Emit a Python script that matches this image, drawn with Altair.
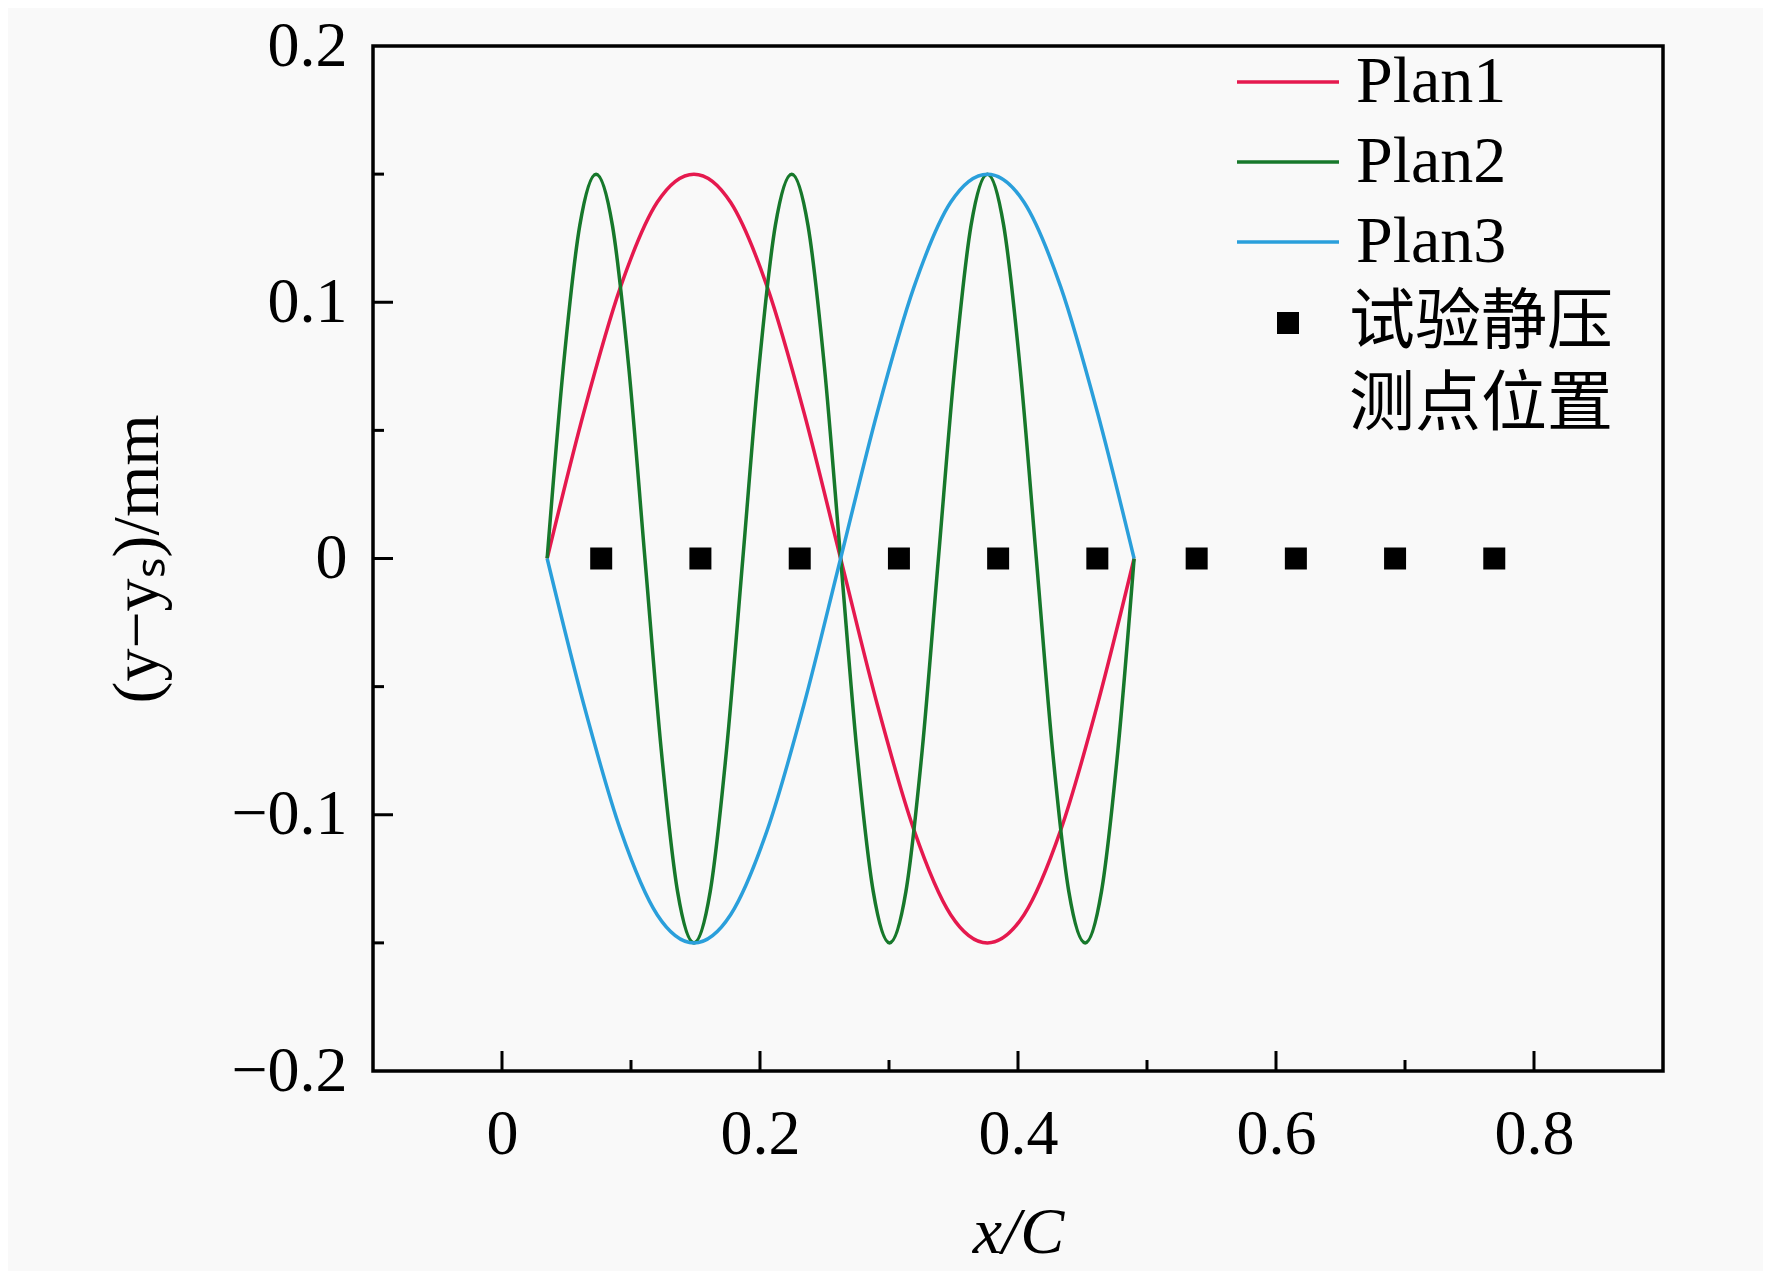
import altair as alt
import pandas as pd

# ---------------- data ----------------
plan1_x = [0.0350, 0.0634, 0.0919, 0.1203, 0.1488, 0.1772, 0.2056, 0.2341, 0.2625,
           0.2909, 0.3194, 0.3478, 0.3763, 0.4047, 0.4331, 0.4616, 0.4900]
plan1_y = [0.000, 0.057, 0.106, 0.139, 0.150, 0.139, 0.106, 0.057, 0.000,
           -0.057, -0.106, -0.139, -0.150, -0.139, -0.106, -0.057, 0.000]

plan2_x = [0.0350, 0.0476, 0.0603, 0.0729, 0.0856, 0.0982, 0.1108, 0.1235, 0.1361,
           0.1488, 0.1614, 0.1740, 0.1867, 0.1993, 0.2119, 0.2246, 0.2372, 0.2499,
           0.2625, 0.2751, 0.2878, 0.3004, 0.3131, 0.3257, 0.3383, 0.3510, 0.3636,
           0.3763, 0.3889, 0.4015, 0.4142, 0.4268, 0.4394, 0.4521, 0.4647, 0.4774,
           0.4900]
plan2_y = [0.000, 0.075, 0.130, 0.150, 0.130, 0.075, 0.000, -0.075, -0.130,
           -0.150, -0.130, -0.075, 0.000, 0.075, 0.130, 0.150, 0.130, 0.075,
           0.000, -0.075, -0.130, -0.150, -0.130, -0.075, 0.000, 0.075, 0.130,
           0.150, 0.130, 0.075, 0.000, -0.075, -0.130, -0.150, -0.130, -0.075,
           0.000]

plan3_x = [0.0350, 0.0634, 0.0919, 0.1203, 0.1488, 0.1772, 0.2056, 0.2341, 0.2625,
           0.2909, 0.3194, 0.3478, 0.3763, 0.4047, 0.4331, 0.4616, 0.4900]
plan3_y = [0.000, -0.057, -0.106, -0.139, -0.150, -0.139, -0.106, -0.057, 0.000,
           0.057, 0.106, 0.139, 0.150, 0.139, 0.106, 0.057, 0.000]

tap_x = [0.0769, 0.1538, 0.2308, 0.3077, 0.3846, 0.4615, 0.5385, 0.6154, 0.6923, 0.7692]
tap_y = [0, 0, 0, 0, 0, 0, 0, 0, 0, 0]

plan_names = ["Plan1", "Plan2", "Plan3"]
plan_colors = ["#E5194E", "#17782B", "#2A9FDB"]
tap_name = "试验静压"
tap_name2 = "测点位置"

x_major = [0, 0.2, 0.4, 0.6, 0.8]
x_minor = [0.1, 0.3, 0.5, 0.7]
y_labels = [-0.2, -0.1, 0, 0.1, 0.2]
y_major = [-0.1, 0, 0.1]
y_minor = [-0.15, -0.05, 0.05, 0.15]

# ---------------- tables ----------------
rows = []
for name, xs, ys in zip(plan_names, [plan1_x, plan2_x, plan3_x], [plan1_y, plan2_y, plan3_y]):
    for i, (a, b) in enumerate(zip(xs, ys)):
        rows.append({"x": a, "y": b, "plan": name, "i": i})
lines_df = pd.DataFrame(rows)
taps_df = pd.DataFrame({"x": tap_x, "y": tap_y, "pt": [tap_name] * len(tap_x)})
xmaj_df = pd.DataFrame({"x": x_major})
xmin_df = pd.DataFrame({"x": x_minor})
ymaj_df = pd.DataFrame({"y": y_major})
ymin_df = pd.DataFrame({"y": y_minor})

W, H = 1290, 1025
SERIF = "Liberation Serif, Times New Roman, serif"
MIXED = "Liberation Serif, Noto Sans CJK SC, serif"

xscale = alt.Scale(domain=[-0.1, 0.9], nice=False, zero=False)
yscale = alt.Scale(domain=[-0.2, 0.2], nice=False, zero=False)

x_axis = alt.Axis(values=x_major, format=".1~f", ticks=False, tickSize=0, domain=False,
                  grid=False, labelFont=SERIF, labelFontSize=64, labelColor="black",
                  labelPadding=31, labelFlush=False, labelOverlap=False,
                  title="x/C", titleFont=SERIF, titleFontSize=66, titleFontStyle="italic",
                  titleFontWeight="normal", titleColor="black", titlePadding=34)
y_axis = alt.Axis(values=y_labels, format=".1~f", ticks=False, tickSize=0, domain=False,
                  grid=False, labelFont=SERIF, labelFontSize=64, labelColor="black",
                  labelPadding=26, labelFlush=False, labelOverlap=False,
                  title="(y−yₛ)/mm", titleFont=SERIF, titleFontSize=66,
                  titleFontWeight="normal", titleColor="black", titlePadding=59)

# long horizontal stroke drawn with a compact symbol size so rows stay tight
line_legend = alt.Legend(title=None, orient="none", legendX=882, legendY=3, padding=0,
                         symbolType="M-2.4,0H2.4", symbolSize=1806, symbolStrokeWidth=3.5,
                         symbolFillColor="transparent",
                         labelFont=SERIF, labelFontSize=66, labelColor="black",
                         labelOffset=35, labelLimit=600, rowPadding=14)
pt_legend = alt.Legend(title=tap_name2, titleOrient="bottom", titleAnchor="end",
                       titleAlign="right", titleFont=MIXED, titleFontSize=66,
                       titleFontWeight="normal", titleColor="black", titlePadding=17,
                       titleLimit=800,
                       orient="none", legendX=882, legendY=244, padding=0,
                       symbolType="square", symbolSize=484, symbolFillColor="black",
                       symbolStrokeWidth=0, labelFont=MIXED, labelFontSize=66,
                       labelColor="black", labelOffset=28, labelLimit=800)

lines = alt.Chart(lines_df).mark_line(strokeWidth=3.5, interpolate="monotone").encode(
    x=alt.X("x:Q", scale=xscale, axis=x_axis),
    y=alt.Y("y:Q", scale=yscale, axis=y_axis),
    color=alt.Color("plan:N", scale=alt.Scale(domain=plan_names, range=plan_colors),
                    legend=line_legend),
    order="i:Q",
)

taps = alt.Chart(taps_df).mark_point(filled=True, size=484, opacity=1, color="black").encode(
    x=alt.X("x:Q", scale=xscale),
    y=alt.Y("y:Q", scale=yscale),
    shape=alt.Shape("pt:N", scale=alt.Scale(domain=[tap_name], range=["square"]),
                    legend=pt_legend),
)

xt_major = alt.Chart(xmaj_df).mark_rule(color="black", strokeWidth=3).encode(
    x=alt.X("x:Q", scale=xscale), y=alt.value(H), y2=alt.value(H - 20))
xt_minor = alt.Chart(xmin_df).mark_rule(color="black", strokeWidth=3).encode(
    x=alt.X("x:Q", scale=xscale), y=alt.value(H), y2=alt.value(H - 11))
yt_major = alt.Chart(ymaj_df).mark_rule(color="black", strokeWidth=3).encode(
    y=alt.Y("y:Q", scale=yscale), x=alt.value(0), x2=alt.value(20))
yt_minor = alt.Chart(ymin_df).mark_rule(color="black", strokeWidth=3).encode(
    y=alt.Y("y:Q", scale=yscale), x=alt.value(0), x2=alt.value(11))

chart = alt.layer(lines, taps, xt_major, xt_minor, yt_major, yt_minor).properties(
    width=W, height=H,
    autosize=alt.AutoSizeParams(type="none"),
    padding={"left": 365, "top": 38, "right": 100, "bottom": 200},
    background="#F9F9F9",
).configure_view(stroke="black", strokeWidth=3.5, fill="#F9F9F9")

chart.save("out.html", embed_options={"renderer": "svg", "actions": False})
